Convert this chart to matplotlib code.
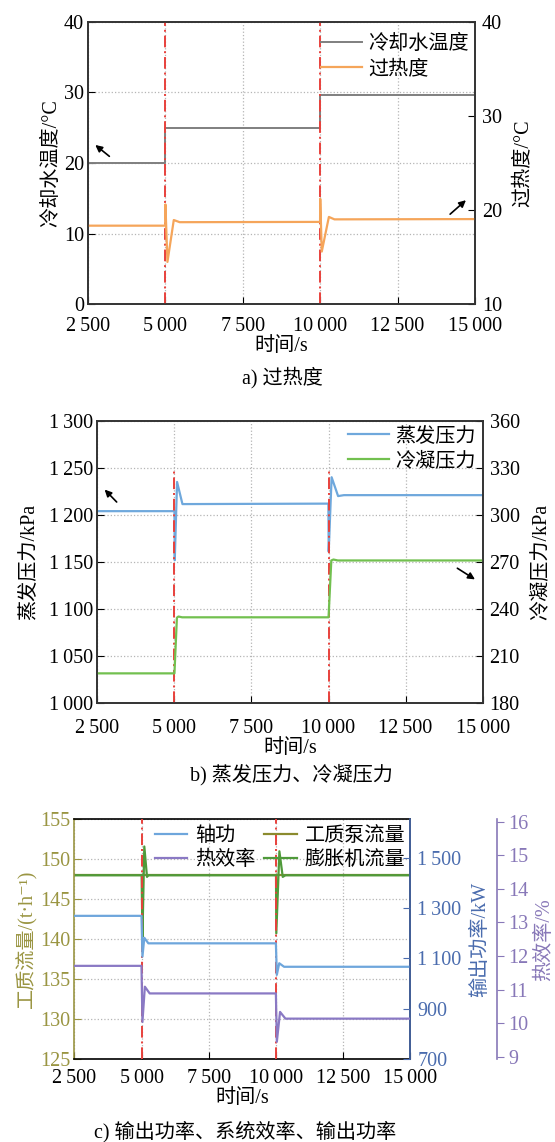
import matplotlib
matplotlib.use('Agg')
import matplotlib.pyplot as plt
from matplotlib.ticker import FuncFormatter, FixedLocator

plt.rcParams['font.family'] = ['Liberation Serif', 'Noto Sans CJK SC', 'DejaVu Sans']
plt.rcParams['font.size'] = 14.5
plt.rcParams['axes.unicode_minus'] = False

# ---- data ----
time_ticks = [2500, 5000, 7500, 10000, 12500, 15000]
step_times = [5000, 10000]

# a) 过热度
t_cool = [2500, 5000, 5000, 10000, 10000, 15000]
cool_temp = [20.0, 20.0, 24.9, 24.9, 29.6, 29.6]
t_sh = [2500, 4995, 5000, 5065, 5270, 5460, 9995, 10000, 10050, 10280, 10460, 15000]
superheat = [18.35, 18.35, 20.6, 14.5, 18.95, 18.72, 18.75, 21.2, 15.6, 19.28, 19.02, 19.05]

# b) 蒸发压力、冷凝压力
t_evap = [2500, 5000, 5010, 5085, 5260, 9995, 10005, 10100, 10310, 10500, 15000]
evap_p = [1204, 1204, 1152, 1235, 1211.5, 1212, 1161, 1240, 1220, 1221, 1221]
t_cond = [2500, 5000, 5080, 5130, 5250, 10000, 10090, 10160, 10300, 15000]
cond_p = [199.1, 199.1, 234.6, 235.3, 234.8, 234.8, 271.0, 271.6, 271.0, 271.0]

# c) 输出功率、系统效率
t_pump = [2500, 15000]
pump_flow = [148, 148]
t_exp = [2500, 5000, 5030, 5100, 5200, 5250, 10000, 10010, 10125, 10250, 10350, 15000]
exp_flow = [148, 148, 140.3, 151.6, 147.8, 148, 148, 140.75, 151.0, 147.8, 148, 148]
t_power = [2500, 4995, 5030, 5100, 5250, 9995, 10030, 10120, 10300, 15000]
power = [1269, 1269, 1107, 1182, 1160, 1160, 1035, 1081, 1067, 1067]
t_eff = [2500, 4995, 5030, 5120, 5300, 9995, 10030, 10150, 10350, 15000]
eff = [11.71, 11.71, 10.04, 11.09, 10.89, 10.89, 9.45, 10.34, 10.14, 10.14]

RED = '#e8413c'
GRID = '#b5b5b5'
thou = FuncFormatter(lambda v, pos: f'{v:,.0f}'.replace(',', '\u2009'))


def style_time_axis(ax, pad=9):
    ax.set_xlim(2500, 15000)
    ax.xaxis.set_major_locator(FixedLocator(time_ticks))
    ax.xaxis.set_major_formatter(thou)
    ax.tick_params(axis='x', direction='in', length=5, pad=pad)
    ax.set_xlabel('时间/s', labelpad=1)
    ax.grid(True, color=GRID, linestyle=':', linewidth=0.9)
    ax.set_axisbelow(True)


def step_lines(ax, ymin=0, ymax=1):
    for t in step_times:
        ax.axvline(t, ymin=ymin, ymax=ymax, color=RED, linestyle=(0, (6, 2, 1, 2)),
                   linewidth=1.4, zorder=5)


def arrow(ax, head, tail):
    ax.annotate('', xy=head, xytext=tail,
                arrowprops=dict(arrowstyle='-|>', color='black', lw=1.2, mutation_scale=10))


fig = plt.figure(figsize=(5.55, 11.42), dpi=100)

# ---------------- a) ----------------
ax = fig.add_axes([0.1586, 0.7335, 0.6973, 0.2475])
ax2 = ax.twinx()
l1, = ax.plot(t_cool, cool_temp, color='#7f7f7f', lw=1.4, label='冷却水温度')
l2, = ax2.plot(t_sh, superheat, color='#f5a55a', lw=1.6, label='过热度')
style_time_axis(ax)
step_lines(ax)
ax.set_ylim(0, 40)
ax.set_yticks([0, 10, 20, 30, 40])
ax2.set_ylim(10, 40)
ax2.set_yticks([10, 20, 30, 40])
ax.tick_params(axis='y', direction='in', length=5, pad=3)
ax2.tick_params(axis='y', direction='in', length=5, pad=5)
ax.set_ylabel('冷却水温度/°C', labelpad=2)
ax2.set_ylabel('过热度/°C', labelpad=8)
for s in list(ax.spines.values()) + list(ax2.spines.values()):
    s.set_color('#333333'); s.set_linewidth(1.2)
ax2.legend([l1, l2], ['冷却水温度', '过热度'], loc='upper right', frameon=False,
           bbox_to_anchor=(0.985, 0.952), borderpad=0, borderaxespad=0,
           handlelength=2.0, handletextpad=0.35, labelspacing=0.3)
arrow(ax, (2665, 22.8), (3259, 20.7))
arrow(ax, (14774, 15.0), (14128, 12.5))
fig.text(0.508, 1 - 378 / 1142, 'a) 过热度', ha='center', va='center')

# ---------------- b) ----------------
ax = fig.add_axes([0.1755, 0.3841, 0.6941, 0.2475])
ax2 = ax.twinx()
l1, = ax.plot(t_evap, evap_p, color='#6fa8dc', lw=1.6, label='蒸发压力')
l2, = ax2.plot(t_cond, cond_p, color='#72c04f', lw=1.6, label='冷凝压力')
style_time_axis(ax, pad=11)
step_lines(ax, 0, 0.833)
ax.set_ylim(1000, 1300)
ax.set_yticks([1000, 1050, 1100, 1150, 1200, 1250, 1300])
ax.yaxis.set_major_formatter(thou)
ax2.set_ylim(180, 360)
ax2.set_yticks([180, 210, 240, 270, 300, 330, 360])
ax.tick_params(axis='y', direction='in', length=5, pad=3)
ax2.tick_params(axis='y', direction='in', length=5, pad=5)
ax.set_ylabel('蒸发压力/kPa', labelpad=8)
ax2.set_ylabel('冷凝压力/kPa', labelpad=8)
for s in list(ax.spines.values()) + list(ax2.spines.values()):
    s.set_color('#333333'); s.set_linewidth(1.2)
ax2.legend([l1, l2], ['蒸发压力', '冷凝压力'], loc='upper right', frameon=False,
           bbox_to_anchor=(0.983, 0.978), borderpad=0, borderaxespad=0,
           handlelength=2.0, handletextpad=0.35, labelspacing=0.3)
arrow(ax, (2672, 1229), (3188, 1211.6))
arrow(ax, (14828, 1130), (14104, 1145))
fig.text(0.526, 1 - 775 / 1142, 'b) 蒸发压力、冷凝压力', ha='center', va='center')

# ---------------- c) ----------------
OLIVE = '#9a9542'
BLUE_AX = '#4a6cae'
PURP_AX = '#8878b8'
ax = fig.add_axes([0.1341, 0.0724, 0.6054, 0.2102])
ax2 = ax.twinx()
ax3 = ax.twinx()
ax3.spines['right'].set_position(('axes', 1.2575))
lp, = ax.plot(t_pump, pump_flow, color='#8b8b2e', lw=1.6)
le, = ax.plot(t_exp, exp_flow, color='#4f9a3a', lw=1.6)
lw_, = ax2.plot(t_power, power, color='#6ea6dc', lw=1.6)
lh, = ax3.plot(t_eff, eff, color='#8a79c4', lw=1.6)
style_time_axis(ax, pad=7)
step_lines(ax)
ax.set_ylim(125, 155)
ax.set_yticks([125, 130, 135, 140, 145, 150, 155])
ax2.set_ylim(700, 1652)
ax2.yaxis.set_major_locator(FixedLocator([700, 900, 1100, 1300, 1500]))
ax2.yaxis.set_major_formatter(thou)
ax3.set_ylim(8.93, 16.07)
ax3.set_yticks([9, 10, 11, 12, 13, 14, 15, 16])
ax.tick_params(axis='y', direction='in', length=5, pad=3, colors=OLIVE, labelcolor=OLIVE)
ax2.tick_params(axis='y', direction='in', length=5, pad=5, colors=BLUE_AX, labelcolor=BLUE_AX)
ax3.tick_params(axis='y', direction='out', length=5, pad=3, colors=PURP_AX, labelcolor=PURP_AX)
ax.set_ylabel('工质流量/(t·h⁻¹)', color=OLIVE, labelpad=2)
ax2.set_ylabel('输出功率/kW', color=BLUE_AX, labelpad=7)
ax3.set_ylabel('热效率/%', color=PURP_AX, labelpad=4.5)
for a in (ax, ax2, ax3):
    for s in a.spines.values():
        s.set_linewidth(1.2)
ax.spines['top'].set_color('black')
ax.spines['bottom'].set_color('black')
ax.spines['left'].set_color(OLIVE)
ax2.spines['right'].set_color(BLUE_AX)
ax3.spines['right'].set_color(PURP_AX)
for name in ('top', 'bottom', 'left'):
    ax2.spines[name].set_visible(False)
    ax3.spines[name].set_visible(False)
ax3.legend([lw_, lh, lp, le], ['轴功', '热效率', '工质泵流量', '膨胀机流量'], ncol=2,
           loc='upper right', frameon=False, bbox_to_anchor=(0.985, 0.968),
           borderpad=0, borderaxespad=0, handlelength=1.6, handletextpad=0.4,
           labelspacing=0.25, columnspacing=0.45)
fig.text(0.442, 1 - 1132 / 1142, 'c) 输出功率、系统效率、输出功率', ha='center', va='center')

fig.savefig('out.png', dpi=100)
